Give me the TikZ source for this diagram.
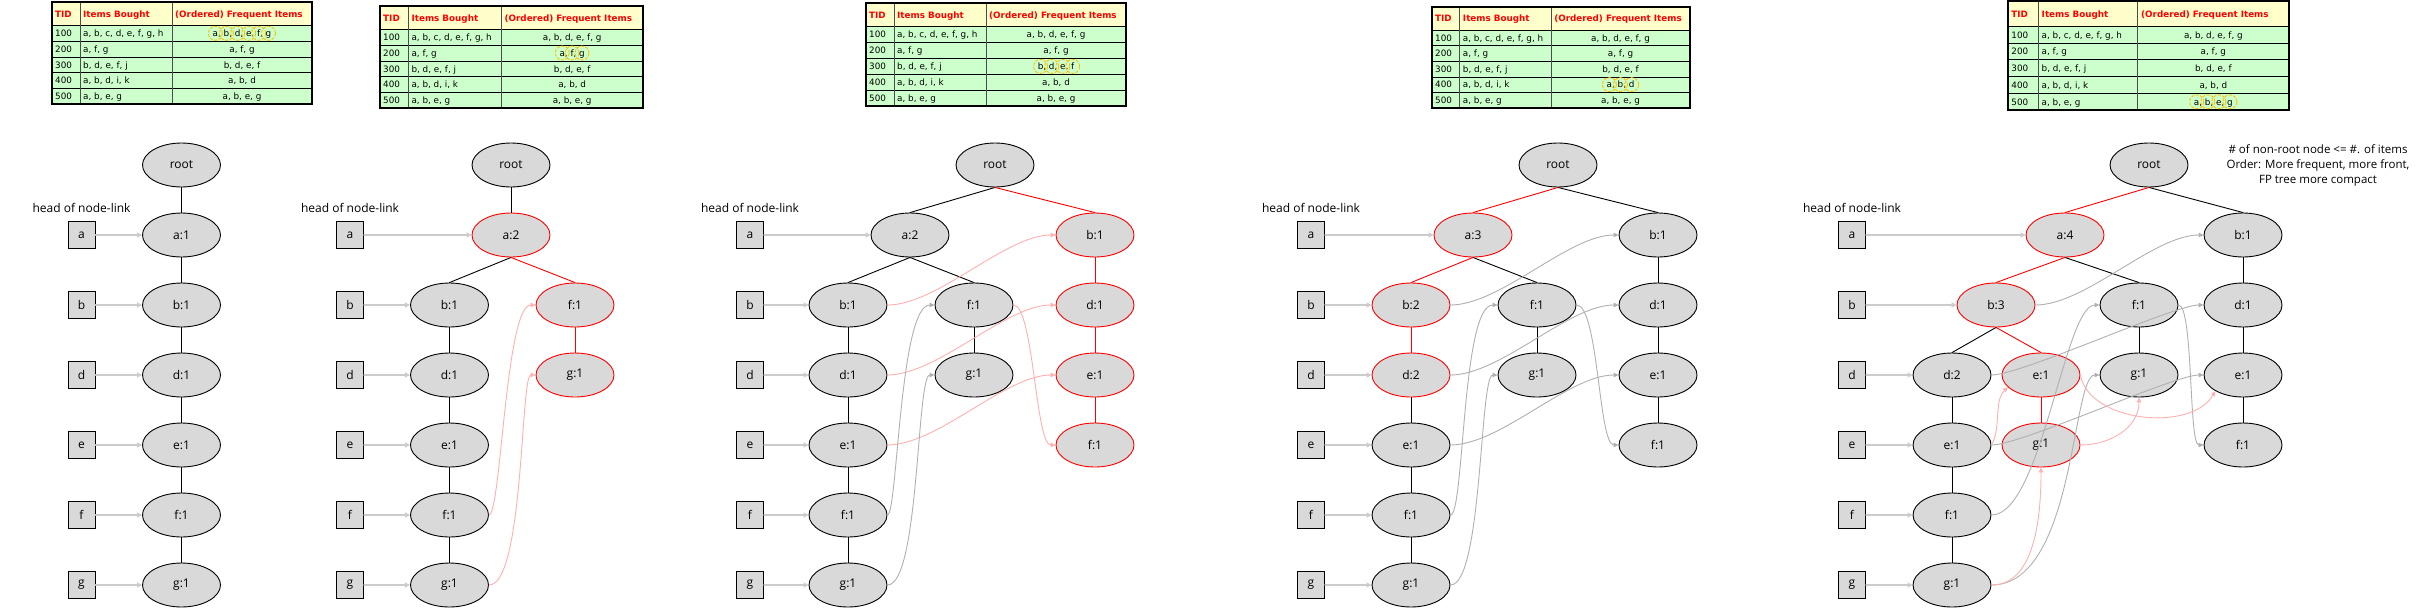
\documentclass[tikz,border=0pt]{standalone}
\usepackage{fontspec}
\setmainfont{Open Sans}
\newfontfamily\tblfont{DejaVu Sans}
\usetikzlibrary{shapes.geometric, arrows.meta}

\definecolor{nodegray}{HTML}{D9D9D9}
\definecolor{headgray}{HTML}{CCCCCC}
\definecolor{linkgray}{HTML}{B0B0B0}
\definecolor{linkpink}{HTML}{FFB0B0}
\definecolor{hdryellow}{HTML}{FFFFCC}
\definecolor{rowgreen}{HTML}{CCFFCC}
\definecolor{hlorange}{HTML}{FFC000}
\definecolor{hdrred}{HTML}{FF0000}

\newcommand{\treefont}{\fontsize{12}{14}\selectfont}
\newcommand{\tblsize}{\tblfont\fontsize{8.8}{10}\selectfont}

\tikzset{
  fpnode/.style={ellipse, draw, fill=nodegray, line width=0.9pt, minimum width=78pt, minimum height=44pt, inner sep=0pt, font=\treefont},
  hotnode/.style={fpnode, draw=red},
  hdbox/.style={rectangle, draw, fill=nodegray, minimum size=27pt, inner sep=0pt, line width=0.9pt, font=\treefont},
  treeedge/.style={line width=0.9pt},
  hotedge/.style={treeedge, red},
  headlink/.style={draw=headgray, line width=1.4pt, -{Triangle[length=5pt,width=5pt]}},
  oldlink/.style={draw=linkgray, line width=0.9pt, -{Triangle[length=5pt,width=4.5pt]}},
  newlink/.style={oldlink, draw=linkpink},
  hlink/.style={out=0, in=180, distance=#1},
  vlink/.style 2 args={out=0, in=180, out distance=#1, in distance=#2},
  tblhead/.style={anchor=base west, inner sep=0pt, font=\tblsize\bfseries, text=hdrred},
  tblcell/.style={anchor=base west, inner sep=0pt, font=\tblsize},
  tblfreq/.style={anchor=base, inner sep=0pt, font=\tblsize}
}

% dashed ring round one item
\newcommand{\circit}[1]{\tikz[baseline=(c.base)]{\node[inner sep=0pt,outer sep=0pt] (c) {#1};
  \draw[overlay, hlorange, dash pattern=on 3pt off 1.5pt, line width=0.9pt] ([yshift=3.3pt]c.base) circle[radius=7pt];}}

% transaction table: x, y, width, height, five frequent-item cells
\newcommand{\txtable}[9]{%
  \begin{scope}[shift={(#1,#2)}, xscale=#3/260, yscale=#4/104]
    \fill[hdryellow] (0,0) rectangle (260,24);
    \fill[rowgreen] (0,24) rectangle (260,104);
    \foreach \ry in {40,56,72,88} \draw[line width=0.7pt] (0,\ry) -- (260,\ry);
    \draw[line width=1.2pt] (0,24) -- (260,24);
    \foreach \cx in {28,120} \draw[line width=0.7pt, black!70] (\cx,0) -- (\cx,104);
    \draw[line width=1.6pt] (0,0) rectangle (260,104);
    \node[tblhead] at (3,15.3) {TID};
    \node[tblhead] at (31,15.3) {Items Bought};
    \node[tblhead] at (123,15.3) {(Ordered) Frequent Items};
    \foreach \ry/\tid/\bought in {35.3/100/{a, b, c, d, e, f, g, h}, 51.3/200/{a, f, g}, 67.3/300/{b, d, e, f, j}, 83.3/400/{a, b, d, i, k}, 99.3/500/{a, b, e, g}} {
      \node[tblcell] at (3,\ry) {\tid};
      \node[tblcell] at (31,\ry) {\bought};
    }
    \node[tblfreq] at (190,35.3) {#5};
    \node[tblfreq] at (190,51.3) {#6};
    \node[tblfreq] at (190,67.3) {#7};
    \node[tblfreq] at (190,83.3) {#8};
    \node[tblfreq] at (190,99.3) {#9};
  \end{scope}}

\begin{document}
\begin{tikzpicture}[x=1pt, y=-1pt, line cap=round]
\useasboundingbox (0,0) rectangle (2416,611);

% tables
\txtable{52}{2}{260}{102}{\circit{a}, \circit{b}, \circit{d}, \circit{e}, \circit{f}, \circit{g}}{a, f, g}{b, d, e, f}{a, b, d}{a, b, e, g}
\txtable{380}{6}{263}{102}{a, b, d, e, f, g}{\circit{a}, \circit{f}, \circit{g}}{b, d, e, f}{a, b, d}{a, b, e, g}
\txtable{866}{3}{260}{103}{a, b, d, e, f, g}{a, f, g}{\circit{b}, \circit{d}, \circit{e}, \circit{f}}{a, b, d}{a, b, e, g}
\txtable{1432}{7}{258}{101}{a, b, d, e, f, g}{a, f, g}{b, d, e, f}{\circit{a}, \circit{b}, \circit{d}}{a, b, e, g}
\txtable{2008}{1}{281}{109}{a, b, d, e, f, g}{a, f, g}{b, d, e, f}{a, b, d}{\circit{a}, \circit{b}, \circit{e}, \circit{g}}

% header tables
\foreach \t/\hx in {1/81.5,2/350,3/750,4/1311,5/1852} {
  \node[font=\treefont] (head\t) at (\hx,208) {head of node-link};
  \foreach \lbl/\yy in {a/235,b/305,d/375,e/445,f/515,g/585}
    \node[hdbox] (h\t\lbl) at (\hx,\yy) {\lbl};
}

% tree 1
\node[fpnode] (t1root) at (181.5,165) {root};
\foreach \lbl/\yy in {a/235,b/305,d/375,e/445,f/515,g/585}
  \node[fpnode] (t1\lbl) at (181.5,\yy) {\lbl:1};
\foreach \p/\c in {root/a,a/b,b/d,d/e,e/f,f/g} \draw[treeedge] (t1\p.south) -- (t1\c.north);

% tree 2
\node[fpnode] (t2root) at (511,165) {root};
\node[hotnode] (t2a) at (511,235) {a:2};
\foreach \lbl/\yy in {b/305,d/375,e/445,f/515,g/585}
  \node[fpnode] (t2\lbl) at (449.5,\yy) {\lbl:1};
\node[hotnode] (t2f2) at (575,305) {f:1};
\node[hotnode] (t2g2) at (575,375) {g:1};
\foreach \p/\c in {root/a,a/b,b/d,d/e,e/f,f/g} \draw[treeedge] (t2\p.south) -- (t2\c.north);
\foreach \p/\c in {a/f2,f2/g2} \draw[hotedge] (t2\p.south) -- (t2\c.north);
\draw[newlink] (t2f.east) to[vlink={12pt}{30pt}] (t2f2.west);
\draw[newlink] (t2g.east) to[vlink={35pt}{15pt}] (t2g2.west);

% tree 3
\node[fpnode] (t3root) at (995,165) {root};
\node[fpnode] (t3a) at (910,235) {a:2};
\foreach \lbl/\yy in {b/305,d/375,e/445,f/515,g/585}
  \node[fpnode] (t3\lbl) at (848,\yy) {\lbl:1};
\node[fpnode] (t3f2) at (974,305) {f:1};
\node[fpnode] (t3g2) at (974,375) {g:1};
\node[hotnode] (t3b2) at (1095,235) {b:1};
\node[hotnode] (t3d2) at (1095,305) {d:1};
\node[hotnode] (t3e2) at (1095,375) {e:1};
\node[hotnode] (t3f3) at (1095,445) {f:1};
\foreach \p/\c in {root/a,a/b,a/f2,f2/g2,b/d,d/e,e/f,f/g} \draw[treeedge] (t3\p.south) -- (t3\c.north);
\foreach \p/\c in {root/b2,b2/d2,d2/e2,e2/f3} \draw[hotedge] (t3\p.south) -- (t3\c.north);
\foreach \s/\d in {b/b2,d/d2,e/e2} \draw[newlink] (t3\s.east) to[hlink=50pt] (t3\d.west);
\draw[newlink] (t3f2.east) to[vlink={20pt}{20pt}] (t3f3.west);
\draw[oldlink] (t3f.east) to[vlink={10pt}{35pt}] (t3f2.west);
\draw[oldlink] (t3g.east) to[vlink={32pt}{18pt}] (t3g2.west);

% tree 4
\node[fpnode] (t4root) at (1558,165) {root};
\node[hotnode] (t4a) at (1473,235) {a:3};
\node[hotnode] (t4b) at (1411,305) {b:2};
\node[hotnode] (t4d) at (1411,375) {d:2};
\foreach \lbl/\yy in {e/445,f/515,g/585}
  \node[fpnode] (t4\lbl) at (1411,\yy) {\lbl:1};
\node[fpnode] (t4f2) at (1537,305) {f:1};
\node[fpnode] (t4g2) at (1537,375) {g:1};
\node[fpnode] (t4b2) at (1658,235) {b:1};
\node[fpnode] (t4d2) at (1658,305) {d:1};
\node[fpnode] (t4e2) at (1658,375) {e:1};
\node[fpnode] (t4f3) at (1658,445) {f:1};
\foreach \p/\c in {root/b2,a/f2,f2/g2,d/e,e/f,f/g,b2/d2,d2/e2,e2/f3} \draw[treeedge] (t4\p.south) -- (t4\c.north);
\foreach \p/\c in {root/a,a/b,b/d} \draw[hotedge] (t4\p.south) -- (t4\c.north);
\foreach \s/\d in {b/b2,d/d2,e/e2} \draw[oldlink] (t4\s.east) to[hlink=50pt] (t4\d.west);
\draw[oldlink] (t4f.east) to[vlink={14pt}{36pt}] (t4f2.west);
\draw[oldlink] (t4g.east) to[vlink={32pt}{18pt}] (t4g2.west);
\draw[oldlink] (t4f2.east) to[vlink={22pt}{20pt}] (t4f3.west);

% tree 5
\node[fpnode] (t5root) at (2149,165) {root};
\node[hotnode] (t5a) at (2065,235) {a:4};
\node[hotnode] (t5b) at (1996,305) {b:3};
\node[fpnode] (t5d) at (1952,375) {d:2};
\foreach \lbl/\yy in {e/445,f/515,g/585}
  \node[fpnode] (t5\lbl) at (1952,\yy) {\lbl:1};
\node[hotnode] (t5e2) at (2041,375) {e:1};
\node[hotnode] (t5g3) at (2041,445) {g:1};
\node[fpnode] (t5f2) at (2139,305) {f:1};
\node[fpnode] (t5g2) at (2139,375) {g:1};
\node[fpnode] (t5b2) at (2243,235) {b:1};
\node[fpnode] (t5d2) at (2243,305) {d:1};
\node[fpnode] (t5e3) at (2243,375) {e:1};
\node[fpnode] (t5f3) at (2243,445) {f:1};
\foreach \p/\c in {root/b2,a/f2,f2/g2,b/d,d/e,e/f,f/g,b2/d2,d2/e3,e3/f3} \draw[treeedge] (t5\p.south) -- (t5\c.north);
\foreach \p/\c in {root/a,a/b,b/e2,e2/g3} \draw[hotedge] (t5\p.south) -- (t5\c.north);
\draw[oldlink] (t5b.east) to[hlink=50pt] (t5b2.west);
\draw[oldlink] (t5d.east) to[hlink=30pt] (t5d2.west);
\draw[oldlink] (t5e.east) to[hlink=30pt] (t5e3.west);
\draw[oldlink] (t5f.east) to[vlink={50pt}{35pt}] (t5f2.west);
\draw[oldlink] (t5g.east) to[vlink={84pt}{28pt}] (t5g2.west);
\draw[oldlink] (t5f2.east) to[vlink={15pt}{15pt}] (t5f3.west);
\draw[newlink] (t5e.east) to[out=60, in=-135, distance=20pt] (t5e2.200);
\draw[newlink] (t5e2.east) to[out=-80, in=-120, distance=48pt] (t5e3.210);
\draw[newlink] (t5g3.east) to[out=0, in=-90, distance=30pt] (t5g2.south);
\draw[newlink] (t5g.east) to[out=0, in=-90, out distance=40pt, in distance=60pt] (t5g3.south);

% header arrows
\foreach \t in {1,...,5}
  \foreach \lbl in {a,b,d,e,f,g}
    \draw[headlink] (h\t\lbl.east) -- (t\t\lbl.west);

\node[font=\fontsize{11.5}{15}\selectfont, align=center] (note) at (2318,165) {\# of non-root node <= \#. of items\\Order: More frequent, more front,\\FP tree more compact};
\end{tikzpicture}
\end{document}
